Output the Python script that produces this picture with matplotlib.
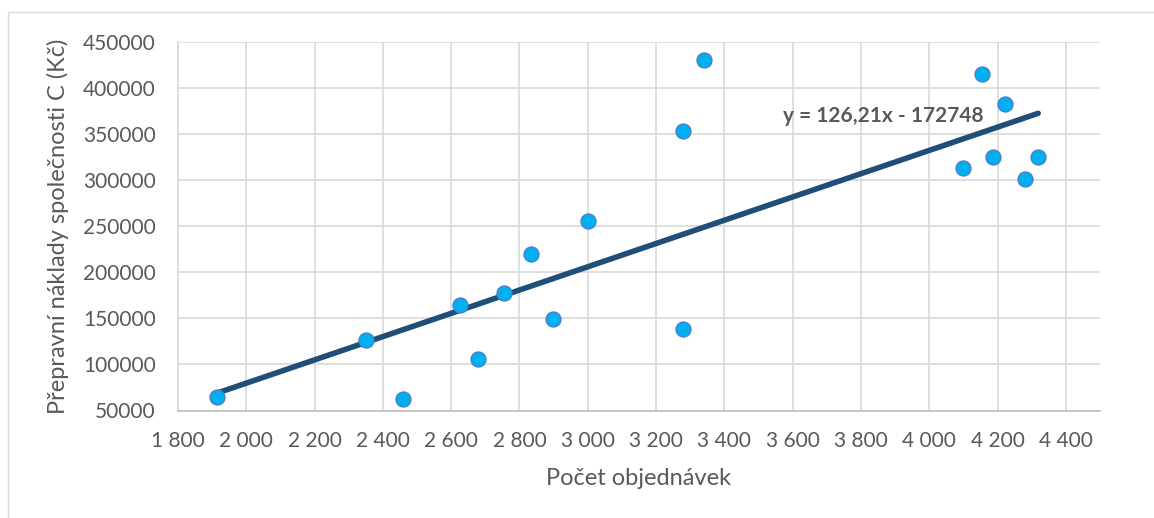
import numpy as np
import matplotlib.pyplot as plt
from matplotlib.patches import Rectangle
from matplotlib.ticker import FuncFormatter, MultipleLocator

# data
orders = [1913, 2350, 2459, 2625, 2679, 2755, 2833, 2897, 3001, 3279,
          3280, 3340, 4100, 4155, 4188, 4221, 4281, 4319]
costs = [65000, 126500, 62200, 164400, 105500, 177800, 219700, 148900, 255900, 138100,
         353200, 429800, 313300, 415300, 325000, 382400, 301400, 325000]

slope = 126.21
intercept = -172748
eq_label = 'y = 126,21x - 172748'

xlabel = 'Počet objednávek'
ylabel = 'Přepravní náklady společnosti C (Kč)'

plt.rcParams['font.family'] = ['Lato', 'DejaVu Sans']

fig = plt.figure(figsize=(11.54, 5.18), dpi=100)
ax = fig.add_axes([178/1154, 1 - 410.5/518, (1100-178)/1154, (410.5-41.7)/518])

# outer chart border (cropped on right and bottom)
fig.patches.append(Rectangle((8/1154, -0.1), 1.2, 1.1 - 12/518, transform=fig.transFigure,
                             fill=False, edgecolor='#d9d9d9', linewidth=1.0))

# trendline over data range
xx = np.array([min(orders), max(orders)])
ax.plot(xx, slope*xx + intercept, color='#1f4e79', linewidth=4, solid_capstyle='round', zorder=2)

ax.scatter(orders, costs, s=115, color='#00b0f0', edgecolors='#4a7ec8', linewidths=1.0, zorder=3)

ax.text(3865, 369500, eq_label, fontsize=15, fontweight='bold', color='#595959',
        ha='center', va='center', zorder=4)

ax.set_xlim(1800, 4500)
ax.set_ylim(50000, 450000)
ax.yaxis.set_major_locator(MultipleLocator(50000))
ax.set_xticks(np.arange(1800, 4401, 200))
ax.xaxis.set_major_formatter(FuncFormatter(lambda v, p: f'{v:,.0f}'.replace(',', ' ')))
ax.yaxis.set_major_formatter(FuncFormatter(lambda v, p: f'{v:.0f}'))

ax.grid(True, color='#d9d9d9', linewidth=1.2)
ax.set_axisbelow(True)
for s in ['top', 'right']:
    ax.spines[s].set_visible(False)
ax.spines['left'].set_color('#d9d9d9')
ax.spines['bottom'].set_color('#bfbfbf')
ax.spines['left'].set_linewidth(1.2)
ax.spines['bottom'].set_linewidth(1.2)

ax.tick_params(axis='both', length=0, labelsize=15, labelcolor='#595959')
ax.tick_params(axis='y', pad=16)
ax.tick_params(axis='x', pad=15)

ax.set_xlabel(xlabel, fontsize=17, color='#595959', labelpad=12)
ax.set_ylabel(ylabel, fontsize=17, color='#595959', labelpad=10)

fig.savefig('out.png', dpi=100)
